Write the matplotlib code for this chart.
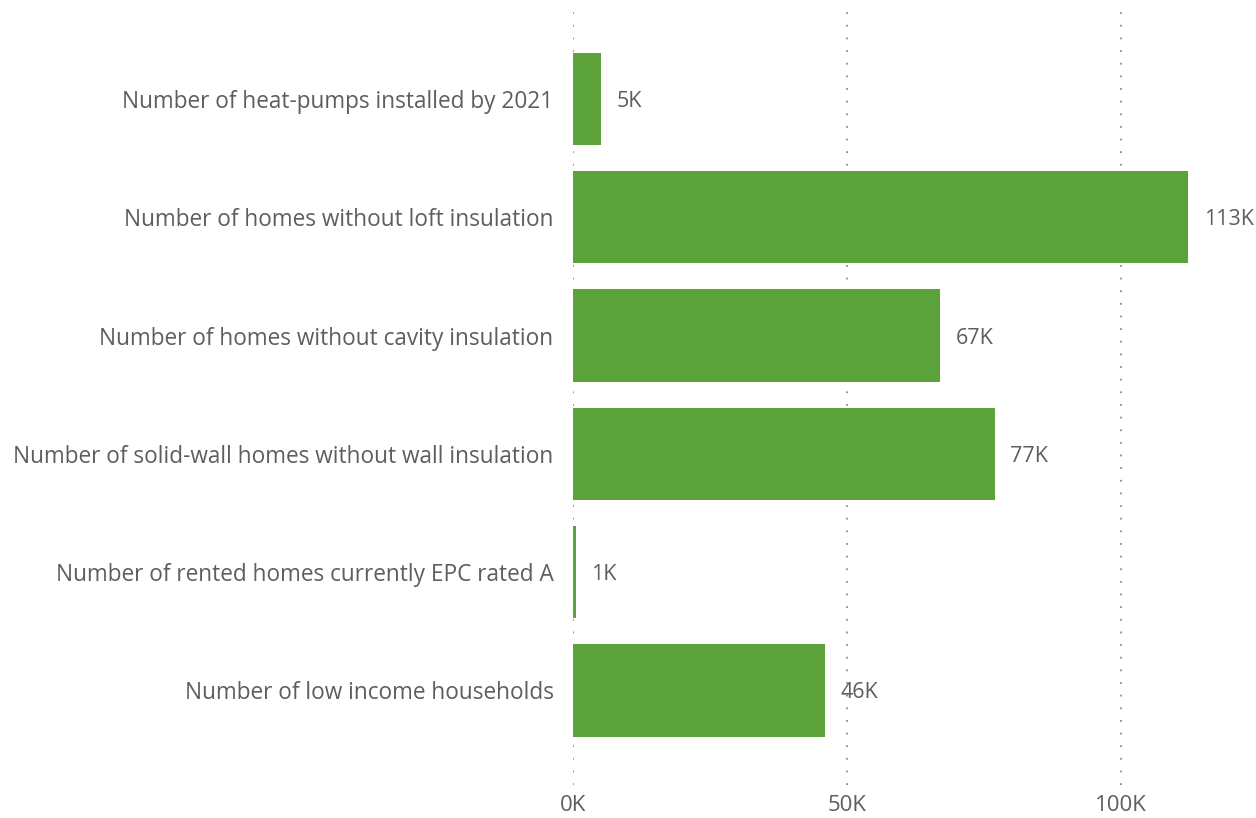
import matplotlib.pyplot as plt

categories = ["Number of heat-pumps installed by 2021",
              "Number of homes without loft insulation",
              "Number of homes without cavity insulation",
              "Number of solid-wall homes without wall insulation",
              "Number of rented homes currently EPC rated A",
              "Number of low income households"]
values = [5200, 112300, 67000, 77000, 550, 46000]
value_labels = ["5K", "113K", "67K", "77K", "1K", "46K"]
x_ticks = [0, 50000, 100000]
x_tick_labels = ["0K", "50K", "100K"]

plt.rcParams['font.family'] = ['Open Sans', 'DejaVu Sans']
text_color = "#605E5C"
bar_color = "#5BA23A"

fig = plt.figure(figsize=(12.56, 8.18), dpi=100)
ax = fig.add_axes([573 / 1256, 1 - 785 / 818, (1240 - 573) / 1256, 775 / 818])

pos = list(range(len(categories)))
ax.barh(pos, values, height=0.78, color=bar_color, zorder=2)

for p, v, lab in zip(pos, values, value_labels):
    ax.annotate(lab, (v, p), xytext=(11, 0), textcoords="offset points",
                va="center_baseline", ha="left", fontsize=15.5, color=text_color)

ax.set_xlim(0, 121700)
ax.set_ylim(5.80, -0.753)
ax.set_yticks(pos)
ax.set_yticklabels(categories, fontsize=16.3, color=text_color)
ax.set_xticks(x_ticks)
ax.set_xticklabels(x_tick_labels, fontsize=16, color=text_color)
ax.tick_params(axis="y", length=0, pad=14)
ax.tick_params(axis="x", length=0, pad=7)

for t in x_ticks:
    ax.axvline(t, color="#8A8A8A", linestyle=(0, (1, 6)), linewidth=1.3, zorder=1)

for s in ax.spines.values():
    s.set_visible(False)

fig.savefig("out.png", dpi=100)
